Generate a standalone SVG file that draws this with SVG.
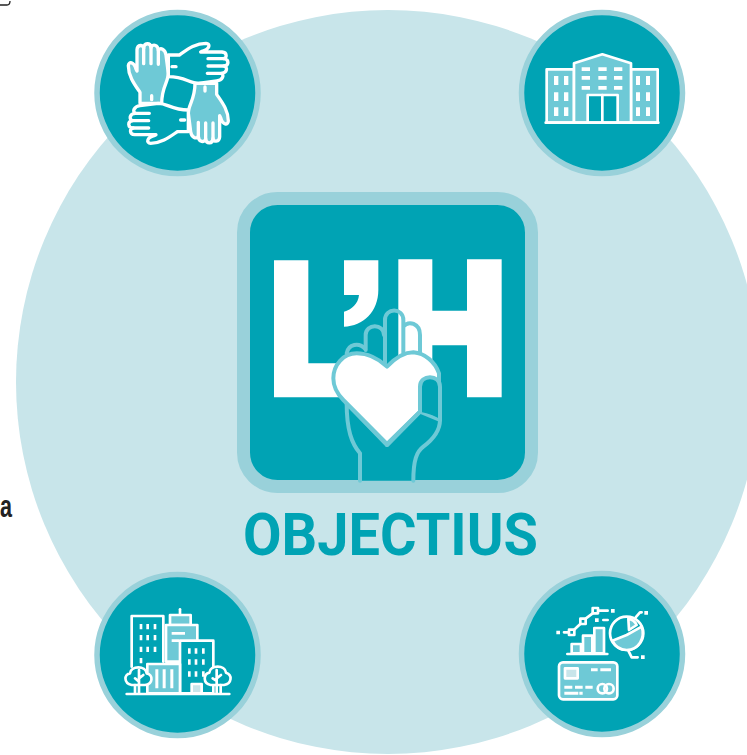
<svg xmlns="http://www.w3.org/2000/svg" width="747" height="755" viewBox="0 0 747 755">
<style>
.ring{fill:#00a3b4;stroke:#99d1da;stroke-width:5.5}
.i{stroke:#fff;stroke-width:8;stroke-linejoin:round;stroke-linecap:round}
.b{stroke-width:10}
.l{fill:#6ec9d6}.t{fill:#00a3b4}.n{fill:none}.w{fill:#fff;stroke:none}.p{fill:#c8e5ea}
.h{stroke:#6ec9d6;stroke-width:12;stroke-linecap:round;stroke-linejoin:round}
</style>
<defs>
<g id="hand">
<path class="i b" d="M150,295V262C135,240 115,215 115,182C116,168 132,170 138,192L141,198V134C142,118 160,118 161,130C162,112 181,112 183,128C186,116 204,118 205,136C210,126 226,132 228,150L235,205C235,232 215,245 215,295Z"/>
<path class="i b n" d="M161,130V176M183,128V176M205,136V178M185,272V284"/>
</g>
</defs>
<rect width="747" height="755" fill="#fff"/>
<circle id="background" cx="388" cy="382" r="372" fill="#c8e5ea"/>
<path d="M0,5H7Q10,5 10,1" fill="none" stroke="#222" stroke-width="1.3"/>
<text x="0" y="517" textLength="12" lengthAdjust="spacingAndGlyphs" font-family="'Liberation Sans',Arial,sans-serif" font-weight="700" font-size="31" fill="#222">a</text>

<g id="node-hands">
<circle class="ring" cx="177.500" cy="93" r="80.500"/>
<g transform="translate(90,5) scale(.33333)">
<use href="#hand" class="l"/>
<use href="#hand" class="t" transform="rotate(90 265 265)"/>
<use href="#hand" class="l" transform="rotate(180 265 265)"/>
<use href="#hand" class="t" transform="rotate(270 265 265)"/>
</g>
</g>

<g id="node-hospital">
<circle class="ring" cx="602" cy="93" r="80.500"/>
<g transform="translate(515,5) scale(.33333)">
<g class="i l">
<rect x="95" y="193" width="82" height="160"/>
<rect x="348" y="193" width="80" height="160"/>
<path d="M177,353V175L262,148L348,175V353Z"/>
<path class="t" d="M218,353V270H308V353Z"/>
<path class="n" d="M262,270V353M92,353H430"/>
</g>
<path class="w" d="M117,213h13v27h-13zM147,213h13v27h-13zM117,262h13v26h-13zM147,262h13v26h-13zM117,307h13v26h-13zM147,307h13v26h-13zM363,213h12v27h-12zM393,213h12v27h-12zM363,262h12v26h-12zM393,262h12v26h-12zM363,307h12v26h-12zM393,307h12v26h-12zM200,187h25v11h-25zM250,187h25v11h-25zM297,187h25v11h-25zM200,213h25v11h-25zM250,213h25v11h-25zM297,213h25v11h-25zM200,243h25v11h-25zM250,243h25v11h-25zM297,243h25v11h-25z"/>
</g>
</g>

<g id="node-city">
<circle class="ring" cx="177.500" cy="655" r="80.500"/>
<g transform="translate(90,570) scale(.33333)">
<g class="i">
<path class="t" d="M125,290V138H220V275"/>
<path class="n" d="M270,118V135"/>
<rect class="l" x="240" y="135" width="62" height="30"/>
<rect class="l" x="228" y="165" width="94" height="110"/>
<path class="t" d="M270,370V212H370V370Z"/>
<path class="l" d="M172,370V282H270V370Z"/>
<rect class="p" x="305" y="342" width="30" height="28"/>
<path class="t" d="M125,345C100,340 102,312 120,310C122,286 168,286 170,310C190,314 190,342 165,345Z"/>
<path class="t" d="M362,345C338,340 340,312 358,308C360,284 406,284 408,308C428,314 426,342 402,345Z"/>
<path class="n" d="M147,300V370M135,345V370M147,325L160,315M135,325L147,335M380,300V370M392,345V370M380,325L393,315M368,325L380,333M110,372H418"/>
</g>
<path class="w" d="M149,162h8v16h-8zM169,162h8v16h-8zM191,162h8v16h-8zM149,195h8v16h-8zM169,195h8v16h-8zM191,195h8v16h-8zM149,230h8v16h-8zM169,230h8v16h-8zM191,230h8v16h-8zM149,264h8v16h-8zM294,235h8v16h-8zM314,235h8v16h-8zM336,235h8v16h-8zM294,268h8v16h-8zM314,268h8v16h-8zM336,268h8v16h-8zM294,304h8v16h-8zM314,304h8v16h-8zM336,304h8v16h-8zM196,298h9v57h-9zM218,298h9v57h-9zM241,298h9v57h-9zM245,186h40v8h-40zM245,208h22v8h-22z"/>
</g>
</g>

<g id="node-finance">
<circle class="ring" cx="602" cy="654" r="80.500"/>
<g transform="translate(515,570) scale(.33333)">
<g class="i">
<rect class="l" x="132" y="277" width="175" height="111" rx="12"/>
<rect class="p" x="150" y="295" width="38" height="30"/>
<circle class="n" cx="262" cy="356" r="14"/>
<circle class="n" cx="282" cy="356" r="14"/>
<path class="n" d="M157,252H277"/>
<rect class="l" x="170" y="222" width="28" height="28"/>
<rect class="l" x="204" y="197" width="28" height="53"/>
<rect class="l" x="238" y="174" width="29" height="76"/>
<path class="n" d="M147,187H161M179,178L195,163M213,145L232,131M250,122H278M265,150H278"/>
<rect class="t" x="162" y="179" width="16" height="16"/>
<rect class="t" x="196" y="146" width="16" height="16"/>
<rect class="t" x="233" y="114" width="16" height="16"/>
<circle class="t" cx="335" cy="190" r="50"/>
<path class="l" d="M335,195L380,170C392,205 370,240 335,240C315,240 300,228 292,212Z"/>
<path class="l" d="M340,146C352,148 360,155 365,165L342,180Z"/>
<path class="n" d="M362,142L375,127H380M340,242L350,262H368"/>
</g>
<path class="w" d="M124,182h11v11h-11zM288,117h11v11h-11zM240,145h11v11h-11zM388,123h11v11h-11zM378,256h11v11h-11zM228,295h20v9h-20zM256,295h32v9h-32zM148,347h24v9h-24zM180,347h23v9h-23zM211,347h22v9h-22zM148,365h42v9h-42zM193,365h10v9h-10z"/>
</g>
</g>

<g id="node-logo">
<rect x="243.500" y="198.500" width="288" height="288" rx="34" fill="#00a3b4" stroke="#99d1da" stroke-width="13"/>
<g transform="translate(235,190) scale(.33333)">
<path fill="#fff" d="M117,211H220V520H330V622H117Z"/>
<path fill="#fff" d="M327,211H430V300C430,365 385,408 327,410V365C350,360 370,340 372,315H327Z"/>
<path fill="#fff" d="M490,208H592V362H696V208H800V622H696V466H592V622H490Z"/>
<path class="h" fill="#00a3b4" d="M375,872V790C350,760 335,720 335,640L456,765L555,665L615,690C615,730 585,755 565,770C545,785 535,810 535,872"/>
<path class="h" fill="none" d="M335,490C340,462 372,455 392,478M392,480V435C392,400 447,400 447,435M450,520V390C450,352 505,352 505,390V490M505,410C520,390 555,400 555,435V490"/>
<path class="h" fill="#fff" d="M456,530C430,505 395,490 365,490C325,490 295,525 295,565C295,590 305,610 325,630L456,762L555,665L612,600V550C600,515 570,490 535,487C510,487 480,505 456,530Z"/>
<path fill="#00a3b4" d="M555,665V590C555,552 615,552 615,590V690C610,680 580,670 555,665Z"/>
<path class="h" fill="none" d="M456,765L555,665V590C555,552 615,552 615,590V690"/>
</g>
</g>

<text id="title" x="243" y="554.500" textLength="295" lengthAdjust="spacingAndGlyphs" font-family="Roboto,'Liberation Sans',sans-serif" font-weight="700" font-size="59" fill="#00a3b4">OBJECTIUS</text>
</svg>
